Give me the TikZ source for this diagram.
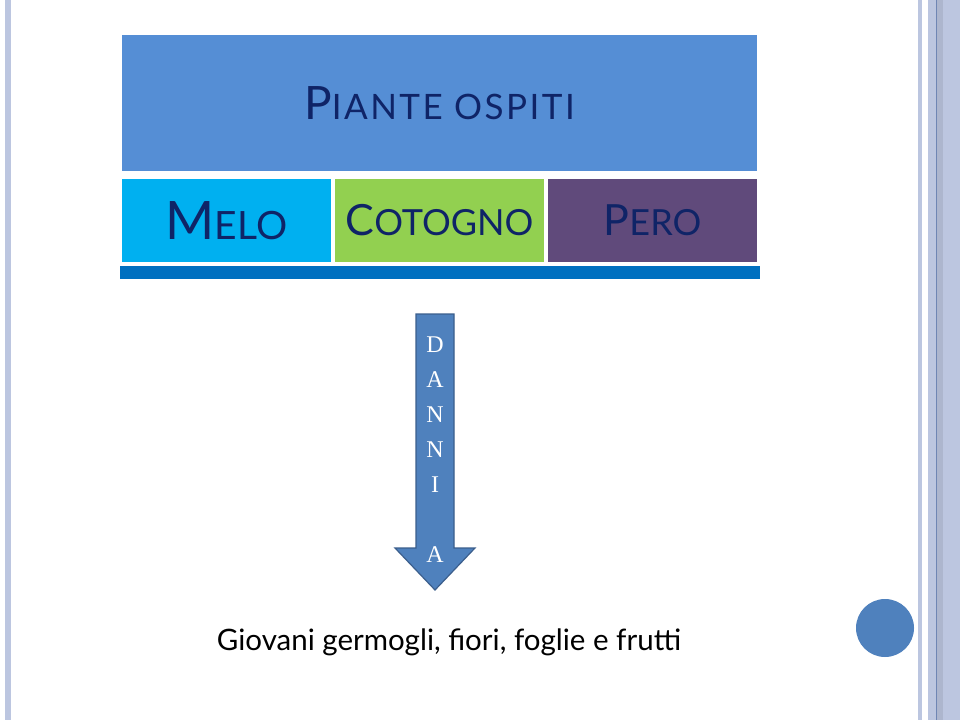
\documentclass[tikz,border=0pt]{standalone}
\usepackage{fontspec}
\setmainfont{Lato}
\newfontfamily\titlefont{Lato}[LetterSpace=7]
\newfontfamily\letterfont{Liberation Serif}
\usetikzlibrary{positioning}
\definecolor{titleblue}{HTML}{558ED5}
\definecolor{meloblue}{HTML}{00B0F0}
\definecolor{cotognogreen}{HTML}{92D050}
\definecolor{peropurple}{HTML}{604A7B}
\definecolor{barblue}{HTML}{0070C0}
\definecolor{navy}{HTML}{0F2467}
\definecolor{arrowblue}{HTML}{4F81BD}
\definecolor{arrowedge}{HTML}{3B5E8C}
\definecolor{stripe}{HTML}{BCC6E0}
\definecolor{stripedark}{HTML}{6F86B4}
% first letter large, the rest as capitals in a smaller size
\newcommand{\fakesc}[4]{{\fontsize{#1}{#1}\selectfont #3}{\fontsize{#2}{#2}\selectfont #4}}

\begin{document}
\begin{tikzpicture}[x=1pt,y=-1pt,
    plate/.style={inner sep=0pt, outer sep=0pt, text=navy},
    plant/.style={plate, minimum width=209pt, minimum height=83pt}]
      \useasboundingbox (0,0) rectangle (960,720);
      \fill[white] (0,0) rectangle (960,720);
      % side stripes
      \fill[stripe] (5,0) rectangle (11,720);
      \fill[stripe] (918,0) rectangle (922,720);
      \fill[stripe] (928,0) rectangle (960,720);
      \fill[stripe!92!black] (937,0) rectangle (943,720);
      \draw[stripedark, line width=1pt] (936,0) -- (936,720);
      % table of host plants
      \node[plate, fill=titleblue, anchor=north west, minimum width=635pt, minimum height=136pt,
        font=\titlefont] (ospiti) at (122,35) {\fakesc{46}{35}{P}{IANTE OSPITI}};
      \node[plant, fill=meloblue, anchor=north west] (melo) at (122,179) {\fakesc{53}{39}{M}{ELO}};
      \node[plant, fill=cotognogreen, right=4pt of melo] (cotogno) {\fakesc{43}{36}{C}{OTOGNO}};
      \node[plant, fill=peropurple, right=4pt of cotogno] (pero) {\fakesc{43}{36}{P}{ERO}};
      \node[plate, fill=barblue, below=4pt of cotogno, minimum width=640pt, minimum height=13pt] (bar) {};
      % arrow of damages
      \filldraw[fill=arrowblue, draw=arrowedge, line width=1.2pt]
        (416,314) -- (454,314) -- (454,548) -- (475,548) -- (435,590)
        -- (395,548) -- (416,548) -- cycle;
      \node[text=white, align=center, font=\letterfont\fontsize{24}{35}\selectfont]
        (danni) at (435,450) {D\\A\\N\\N\\I\\[35pt]A};
      \node[anchor=base, font=\fontsize{29.5}{29.5}\selectfont] (organi) at (449,650)
        {Giovani germogli, fiori, foglie e frutti};
      \fill[arrowblue] (885,628) circle (29pt);

    \end{tikzpicture}
\end{document}
